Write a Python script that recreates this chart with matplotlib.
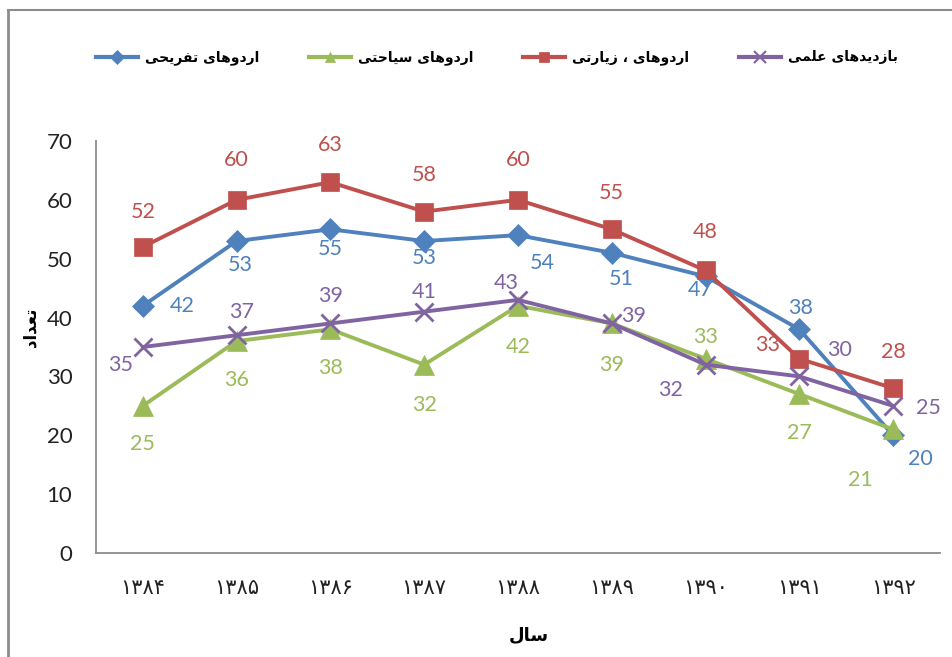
import matplotlib
matplotlib.use('Agg')
import matplotlib.pyplot as plt
from matplotlib.lines import Line2D

# Persian text (logical order)
years = ['۱۳۸۴', '۱۳۸۵', '۱۳۸۶', '۱۳۸۷', '۱۳۸۸', '۱۳۸۹', '۱۳۹۰', '۱۳۹۱', '۱۳۹۲']
names = ['اردوهای تفریحی', 'اردوهای سیاحتی', 'اردوهای ، زیارتی', 'بازدیدهای علمی']
ylabel = 'تعداد'
xlabel = 'سال'

tafrihi = [42, 53, 55, 53, 54, 51, 47, 38, 20]
siyahati = [25, 36, 38, 32, 42, 39, 33, 27, 21]
ziyarati = [52, 60, 63, 58, 60, 55, 48, 33, 28]
elmi = [35, 37, 39, 41, 43, 39, 32, 30, 25]

# label offsets in pixels (dx, dy with y down)
off_tafrihi = [(39, 0), (4, 24), (0, 20), (0, 17), (24, 28), (9, 26), (-5, 14), (1, -21), (27, 24)]
off_siyahati = [(0, 38), (0, 39), (0, 39), (0, 40), (0, 41), (0, 42), (0, -22), (0, 39), (-33, 51)]
off_ziyarati = [(0, -35), (0, -40), (0, -37), (0, -37), (0, -40), (0, -36), (0, -38), (-32, -14), (0, -36)]
off_elmi = [(-22, 18), (5, -23), (0, -27), (0, -20), (-12, -17), (22, -7), (-35, 25), (40, -26), (35, 2)]

FORMS = {
    'ا': ('\uFE8D', '\uFE8E', None, None),
    'ب': ('\uFE8F', '\uFE90', '\uFE91', '\uFE92'),
    'ت': ('\uFE95', '\uFE96', '\uFE97', '\uFE98'),
    'ح': ('\uFEA1', '\uFEA2', '\uFEA3', '\uFEA4'),
    'د': ('\uFEA9', '\uFEAA', None, None),
    'ر': ('\uFEAD', '\uFEAE', None, None),
    'ز': ('\uFEAF', '\uFEB0', None, None),
    'س': ('\uFEB1', '\uFEB2', '\uFEB3', '\uFEB4'),
    'ع': ('\uFEC9', '\uFECA', '\uFECB', '\uFECC'),
    'ف': ('\uFED1', '\uFED2', '\uFED3', '\uFED4'),
    'ل': ('\uFEDD', '\uFEDE', '\uFEDF', '\uFEE0'),
    'م': ('\uFEE1', '\uFEE2', '\uFEE3', '\uFEE4'),
    'ه': ('\uFEE9', '\uFEEA', '\uFEEB', '\uFEEC'),
    'و': ('\uFEED', '\uFEEE', None, None),
    'ی': ('\uFBFC', '\uFBFD', '\uFBFE', '\uFBFF'),
}


def fa(s):
    # matplotlib has no arabic shaping, so pick the joined forms and flip to RTL
    out = []
    for i, c in enumerate(s):
        if c not in FORMS:
            out.append(c)
            continue
        prev = s[i - 1] if i > 0 else ''
        nxt = s[i + 1] if i + 1 < len(s) else ''
        jp = prev in FORMS and FORMS[prev][2] is not None
        jn = FORMS[c][2] is not None and nxt in FORMS
        iso, fin, ini, med = FORMS[c]
        if jp and jn:
            out.append(med)
        elif jp:
            out.append(fin)
        elif jn:
            out.append(ini)
        else:
            out.append(iso)
    return ''.join(reversed(out))


plt.rcParams['font.family'] = ['Lato', 'DejaVu Sans']

fig = plt.figure(figsize=(9.52, 6.57), dpi=100)
ax = fig.add_axes([0.1008, 0.1583, 0.8866, 0.6271])

series = [tafrihi, siyahati, ziyarati, elmi]
offsets = [off_tafrihi, off_siyahati, off_ziyarati, off_elmi]
colors = ['#4F81BD', '#9BBB59', '#C0504D', '#8064A2']
markers = ['D', '^', 's', 'x']
msizes = [11, 14, 13, 13]
x = list(range(len(years)))

handles = []
for vals, offs, c, m, ms, nm in zip(series, offsets, colors, markers, msizes, names):
    ax.plot(x, vals, color=c, lw=2.8, marker=m, markersize=ms,
            markeredgewidth=2 if m == 'x' else 0.5, markeredgecolor=c, zorder=3)
    for xi, v, (dx, dy) in zip(x, vals, offs):
        ax.annotate(str(v), (xi, v), xytext=(dx * 0.72, -dy * 0.72),
                    textcoords='offset points', ha='center', va='center',
                    color=c, fontsize=15.5, zorder=4)
    handles.append(Line2D([], [], color=c, lw=3, marker=m,
                          markersize=7 if m != 'x' else 8, markeredgecolor=c,
                          markeredgewidth=1.5 if m == 'x' else 0.5, label=fa(nm)))

ax.set_xlim(-0.5, len(years) - 0.5)
ax.set_ylim(0, 70)
ax.set_yticks(range(0, 71, 10))
ax.set_xticks(x)
ax.set_xticklabels(years, family='DejaVu Sans', fontsize=15)
ax.tick_params(axis='both', length=0, colors='#222222')
ax.tick_params(axis='y', pad=17, labelsize=16)
ax.tick_params(axis='x', pad=18)
for sp in ['top', 'right']:
    ax.spines[sp].set_visible(False)
for sp in ['left', 'bottom']:
    ax.spines[sp].set_color('#8C8C8C')
    ax.spines[sp].set_linewidth(1.3)

fig.text(0.032, 0.502, fa(ylabel), rotation=90, ha='center', va='center',
         family='DejaVu Sans', fontweight='bold', fontsize=12)
fig.text(0.555, 0.033, fa(xlabel), ha='center', va='center',
         family='DejaVu Sans', fontweight='bold', fontsize=13)

fig.legend(handles=handles, loc='center', bbox_to_anchor=(0.522, 0.912), ncol=4,
           frameon=False, prop={'family': 'DejaVu Sans', 'weight': 'bold', 'size': 10},
           handlelength=3, columnspacing=3.6, handletextpad=0.5)

# outer frame of the chart area
fig.add_artist(Line2D([0.0084, 0.0084], [0, 0.985], color='#8C8C8C', lw=2,
                      transform=fig.transFigure))
fig.add_artist(Line2D([0.0084, 1.0], [0.985, 0.985], color='#8C8C8C', lw=1.5,
                      transform=fig.transFigure))

fig.savefig('out.png', dpi=100)
